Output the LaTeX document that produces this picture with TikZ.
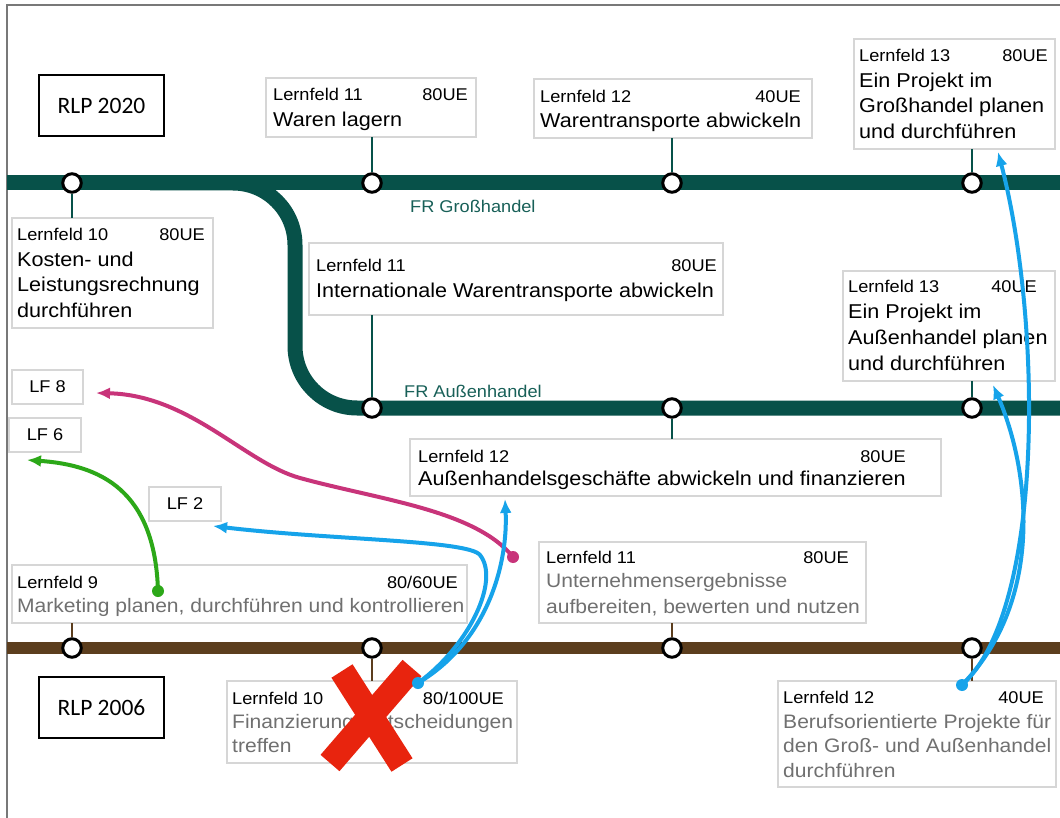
\documentclass[tikz,border=0pt]{standalone}
\usepackage{fontspec}
\setmainfont{Liberation Sans}
\newfontfamily\lfhead{Liberation Sans}[FakeStretch=1.07]
\newfontfamily\lfbody{Liberation Sans}[FakeStretch=1.08]
\newfontfamily\rlpfont{Carlito}
\usetikzlibrary{arrows.meta,fit}
\definecolor{boxgray}{RGB}{214,214,214}
\definecolor{framegray}{RGB}{120,120,120}
\definecolor{graytext}{RGB}{112,112,112}
\definecolor{tealline}{RGB}{7,81,73}
\definecolor{frteal}{RGB}{24,96,88}
\definecolor{brownline}{RGB}{92,62,30}
\definecolor{arrblue}{RGB}{22,163,234}
\definecolor{arrmag}{RGB}{200,52,122}
\definecolor{arrgreen}{RGB}{44,168,24}
\definecolor{redx}{RGB}{232,36,14}
\begin{document}
\begin{tikzpicture}[x=1pt,y=-1pt,
  box/.style={draw=boxgray, line width=1.4pt, fill=white, inner sep=0pt, outer sep=0pt},
  rlp/.style={draw=black, line width=1.5pt, fill=white, inner sep=0pt, outer sep=0pt},
  rlptext/.style={inner sep=0pt, font=\rlpfont\fontsize{23.5}{27}\selectfont},
  lftext/.style={inner sep=0pt, font=\lfhead\fontsize{17}{20}\selectfont},
  hl/.style={inner sep=0pt, anchor=base west, font=\lfhead\fontsize{17}{20}\selectfont},
  hr/.style={inner sep=0pt, anchor=base east, font=\lfhead\fontsize{17}{20}\selectfont},
  mt/.style={inner sep=0pt, anchor=base west, font=\lfbody\fontsize{20}{24}\selectfont},
  gt/.style={inner sep=0pt, anchor=base west, text=graytext, font=\lfbody\fontsize{19.5}{23}\selectfont},
  frt/.style={inner sep=0pt, anchor=base west, text=frteal, font=\lfhead\fontsize{17}{20}\selectfont},
  stn/.style={circle, draw=black, fill=white, line width=3pt, minimum size=18.5pt, inner sep=0pt},
  tickT/.style={draw=tealline, line width=1.8pt},
  tickB/.style={draw=brownline, line width=1.5pt},
  dot/.style={circle, minimum size=12pt, inner sep=0pt},
  arr/.style={line width=4pt, -{Latex[length=14pt,width=12pt]}}
]
\useasboundingbox (0,0) rectangle (1060,818);
\fill[white] (0,0) rectangle (1060,818);
% frame
\draw[framegray, line width=2pt] (7,818) -- (7,5) -- (1060,5);

% lines
\draw[tealline, line width=15pt, rounded corners=62pt] (150,183) -- (295,183) -- (295,408) -- (1060,408);
\draw[tealline, line width=15pt] (7,183) -- (1060,183);
\draw[brownline, line width=12pt] (7,648) -- (1060,648);

% stations
\node[stn] (sT1) at (72,183) {};
\node[stn] (sT2) at (372,183) {};
\node[stn] (sT3) at (672,183) {};
\node[stn] (sT4) at (972,183) {};
\node[stn] (sA1) at (372,408) {};
\node[stn] (sA2) at (672,408) {};
\node[stn] (sA3) at (972,408) {};
\node[stn] (sB1) at (72,648) {};
\node[stn] (sB2) at (372,648) {};
\node[stn] (sB3) at (672,648) {};
\node[stn] (sB4) at (972,648) {};

% boxes
\node[rlp, fit={(39,75)(164,136)}] (r20) {};
\node[rlptext] (r20t) at (r20.center) {RLP 2020};
\node[rlp, fit={(39,677)(164,738)}] (r06) {};
\node[rlptext] (r06t) at (r06.center) {RLP 2006};

\node[box, fit={(266,78)(476,137)}] (b1) {};
\node[box, fit={(534,79)(812,138)}] (b2) {};
\node[box, fit={(854,39)(1055,149)}] (b3) {};
\node[box, fit={(12,218)(213,328)}] (b4) {};
\node[box, fit={(309,243)(723,315)}] (b5) {};
\node[box, fit={(843,271)(1055,381)}] (b6) {};
\node[box, fit={(410,439)(941,496)}] (b7) {};
\node[box, fit={(12,370)(83,404)}] (b8) {};
\node[box, fit={(9,418)(81,452)}] (b9) {};
\node[box, fit={(149,487)(221,521)}] (b10) {};
\node[box, fit={(12,565)(467,623)}] (b11) {};
\node[box, fit={(539,542)(866,623)}] (b12) {};
\node[box, fit={(227,681)(517,763)}] (b13) {};
\node[box, fit={(778,681)(1056,787)}] (b14) {};

% ticks
\draw[tickT] (sT1) -- (sT1 |- b4.north);
\draw[tickT] (sT2) -- (sT2 |- b1.south);
\draw[tickT] (sT3) -- (sT3 |- b2.south);
\draw[tickT] (sT4) -- (sT4 |- b3.south);
\draw[tickT] (sA1) -- (sA1 |- b5.south);
\draw[tickT] (sA2) -- (sA2 |- b7.north);
\draw[tickT] (sA3) -- (sA3 |- b6.south);
\draw[tickB] (sB1) -- (sB1 |- b11.south);
\draw[tickB] (sB2) -- (sB2 |- b13.north);
\draw[tickB] (sB3) -- (sB3 |- b12.south);
\draw[tickB] (sB4) -- (sB4 |- b14.north);

% line labels
\node[frt] (fr1) at (410,213) {FR Großhandel};
\node[frt] (fr2) at (404,397) {FR Außenhandel};

% texts
\node[hl] (t1a) at (273,101) {Lernfeld 11};
\node[hr] (t1b) at (468,101) {80UE};
\node[mt] (t1c) at (273,127) {Waren lagern};

\node[hl] (t2a) at (540,102.5) {Lernfeld 12};
\node[hr] (t2b) at (801,102.5) {40UE};
\node[mt] (t2c) at (540,127.5) {Warentransporte abwickeln};

\node[hl] (t3a) at (859,62) {Lernfeld 13};
\node[hr] (t3b) at (1048,62) {80UE};
\node[mt] (t3c) at (859,88) {Ein Projekt im};
\node[mt] (t3d) at (859,113) {Großhandel planen};
\node[mt] (t3e) at (859,139) {und durchführen};

\node[hl] (t4a) at (17,241) {Lernfeld 10};
\node[hr] (t4b) at (205,241) {80UE};
\node[mt] (t4c) at (17,267) {Kosten- und};
\node[mt] (t4d) at (17,292) {Leistungsrechnung};
\node[mt] (t4e) at (17,317) {durchführen};

\node[hl] (t5a) at (316,272) {Lernfeld 11};
\node[hr] (t5b) at (717,272) {80UE};
\node[mt] (t5c) at (316,298) {Internationale Warentransporte abwickeln};

\node[hl] (t6a) at (848,293) {Lernfeld 13};
\node[hr] (t6b) at (1037,293) {40UE};
\node[mt] (t6c) at (848,318) {Ein Projekt im};
\node[mt] (t6d) at (848,344) {Außenhandel planen};
\node[mt] (t6e) at (848,370) {und durchführen};

\node[hl] (t7a) at (418,462) {Lernfeld 12};
\node[hr] (t7b) at (906,462) {80UE};
\node[mt] (t7c) at (418,485) {Außenhandelsgeschäfte abwickeln und finanzieren};

\node[lftext] (t8) at (b8.center) {LF 8};
\node[lftext] (t9) at (b9.center) {LF 6};
\node[lftext] (t10) at (b10.center) {LF 2};

\node[hl] (t11a) at (17,588) {Lernfeld 9};
\node[hr] (t11b) at (458,588) {80/60UE};
\node[gt] (t11c) at (17,612) {Marketing planen, durchführen und kontrollieren};

\node[hl] (t12a) at (546,563) {Lernfeld 11};
\node[hr] (t12b) at (849,563) {80UE};
\node[gt] (t12c) at (546,587) {Unternehmensergebnisse};
\node[gt] (t12d) at (546,613) {aufbereiten, bewerten und nutzen};

\node[hl] (t13a) at (232,704) {Lernfeld 10};
\node[hr] (t13b) at (504,704) {80/100UE};
\node[gt] (t13c) at (232,728) {Finanzierungsentscheidungen};
\node[gt] (t13d) at (232,752) {treffen};

\node[hl] (t14a) at (783,703) {Lernfeld 12};
\node[hr] (t14b) at (1044,703) {40UE};
\node[gt] (t14c) at (783,728) {Berufsorientierte Projekte für};
\node[gt] (t14d) at (783,752) {den Groß- und Außenhandel};
\node[gt] (t14e) at (783,777) {durchführen};

% red cross
\draw[redx, line width=25pt] (342,671) -- (402,765);
\draw[redx, line width=25pt] (412,668) -- (330,763);

% arrow ends
\node[dot, fill=arrmag] (dM) at (513,557) {};
\node[dot, fill=arrgreen] (dG) at (158,591) {};
\node[dot, fill=arrblue] (dB1) at (418,683) {};
\node[dot, fill=arrblue] (dB2) at (962,685) {};
\coordinate (pLF8) at (96,393);
\coordinate (pLF6) at (27,460);
\coordinate (pLF2) at (213,526);
\coordinate (pLF12a) at (505,499);
\coordinate (pLF13g) at (998,152);
\coordinate (pLF13a) at (993,385);

% arrows
\draw[arr, arrmag] (dM.center) .. controls (475,510) and (380,500) .. (300,478)
  .. controls (245,463) and (190,395) .. (pLF8);
\draw[arr, arrgreen] (dG.center) .. controls (155,490) and (100,465) .. (pLF6);
\draw[arr, arrblue] (dB1.center) .. controls (470,645) and (500,580) .. (480,555)
  .. controls (468,540) and (330,540) .. (pLF2);
\draw[arr, arrblue] (dB1.center) .. controls (490,640) and (508,560) .. (pLF12a);
\draw[arr, arrblue] (dB2.center) .. controls (1045,610) and (1042,320) .. (pLF13g);
\draw[arr, arrblue] (dB2.center) .. controls (1045,600) and (1030,470) .. (pLF13a);
\end{tikzpicture}
\end{document}
